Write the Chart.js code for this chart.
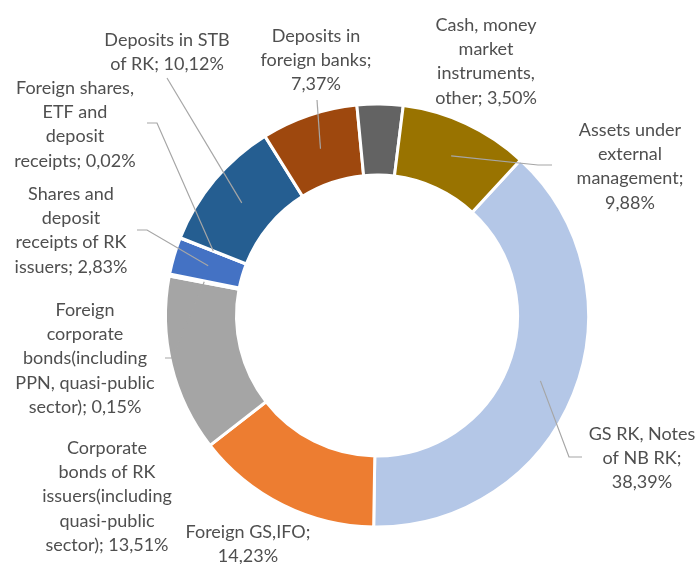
<!DOCTYPE html>
<html lang="en">
<head>
  <meta charset="UTF-8" />
  <title>Portfolio structure</title>
  <script src="https://cdn.jsdelivr.net/npm/chart.js"></script>
  <style>
    body { margin: 0; padding: 0; background: #fff; }
    #wrap { width: 696px; height: 564px; }
  </style>
</head>
<body>
<div id="wrap">
  <canvas id="donut" width="696" height="564"></canvas>
</div>

<script>
// categories (\n marks where the label text wraps)
const categories = [
  'GS RK, Notes\nof NB RK',
  'Foreign GS,IFO',
  'Corporate\nbonds of RK\nissuers(including\nquasi-public\nsector)',
  'Foreign\ncorporate\nbonds(including\nPPN, quasi-public\nsector)',
  'Shares and\ndeposit\nreceipts of RK\nissuers',
  'Foreign shares,\nETF and\ndeposit\nreceipts',
  'Deposits in STB\nof RK',
  'Deposits in\nforeign banks',
  'Cash, money\nmarket\ninstruments,\nother',
  'Assets under\nexternal\nmanagement'
];
const shares = [38.39, 14.23, 13.51, 0.15, 2.83, 0.02, 10.12, 7.37, 3.50, 9.88];
const colors = ['#B4C7E7', '#ED7D31', '#A5A5A5', '#FFC000', '#4472C4', '#70AD47',
                '#255E91', '#9E480E', '#636363', '#997300'];

// label placement: centre x, first line y, value on own line, leader [x, y, elbowX]
const labelLayout = [
  { x: 642, y: 434, own: true,  leader: [582, 457, 569] },
  { x: 248, y: 532, own: true,  leader: null },
  { x: 107, y: 448, own: false, leader: null },
  { x: 85,  y: 310, own: false, leader: [165, 358, 172] },
  { x: 71,  y: 194, own: false, leader: [137, 230, 147] },
  { x: 75,  y: 88,  own: false, leader: [147, 123, 157] },
  { x: 167, y: 40,  own: false, leader: [167, 78, 167] },
  { x: 316, y: 36,  own: true,  leader: [317, 100, 317] },
  { x: 486, y: 25,  own: false, leader: null },
  { x: 630, y: 130, own: true,  leader: [552, 165, 538] }
];
const LINE_H = 24.3;

const fmtPct = v => v.toFixed(2).replace('.', ',') + '%';

const outsideLabels = {
  id: 'outsideLabels',
  afterDatasetsDraw(chart) {
    const ctx = chart.ctx;
    const arcs = chart.getDatasetMeta(0).data;
    ctx.save();
    // leader lines
    ctx.strokeStyle = '#A6A6A6';
    ctx.lineWidth = 1.2;
    labelLayout.forEach((lay, i) => {
      if (!lay.leader) return;
      const c = arcs[i].getCenterPoint();
      ctx.beginPath();
      ctx.moveTo(lay.leader[0], lay.leader[1]);
      ctx.lineTo(lay.leader[2], lay.leader[1]);
      ctx.lineTo(c.x, c.y);
      ctx.stroke();
    });
    // texts
    ctx.fillStyle = '#4F4F4F';
    ctx.font = '18px Lato';
    ctx.textAlign = 'center';
    ctx.textBaseline = 'middle';
    labelLayout.forEach((lay, i) => {
      const lines = categories[i].split('\n');
      const val = fmtPct(shares[i]);
      if (lay.own) {
        lines[lines.length - 1] += ';';
        lines.push(val);
      } else {
        lines[lines.length - 1] += '; ' + val;
      }
      lines.forEach((t, k) => ctx.fillText(t, lay.x, lay.y + k * LINE_H));
    });
    ctx.restore();
  }
};

new Chart(document.getElementById('donut'), {
  type: 'doughnut',
  data: {
    labels: categories,
    datasets: [{
      data: shares,
      backgroundColor: colors,
      borderColor: '#ffffff',
      borderWidth: 3
    }]
  },
  options: {
    responsive: false,
    animation: false,
    rotation: 42.7,
    radius: 211.5,
    cutout: 138.5,
    layout: { padding: { left: 167, right: 109, top: 105, bottom: 38 } },
    plugins: {
      legend: { display: false },
      tooltip: { enabled: false }
    }
  },
  plugins: [outsideLabels]
});
</script>
</body>
</html>
